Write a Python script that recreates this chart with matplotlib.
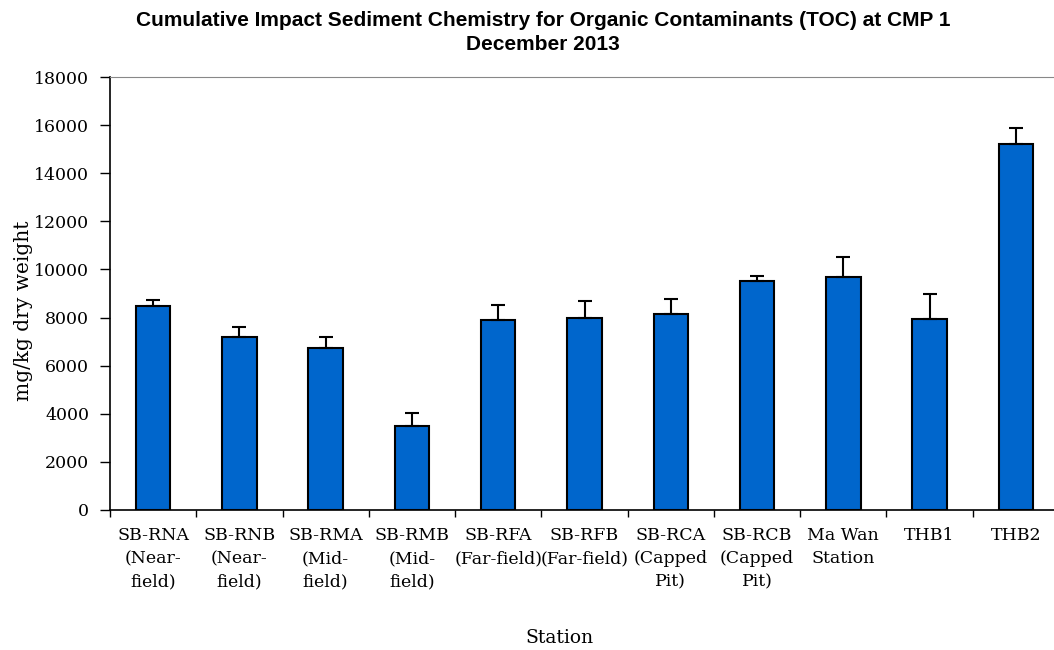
import matplotlib
matplotlib.use("Agg")
import matplotlib.pyplot as plt
import numpy as np

# Stations and TOC values (mg/kg dry weight)
stations = ['SB-RNA\n(Near-\nfield)', 'SB-RNB\n(Near-\nfield)', 'SB-RMA\n(Mid-\nfield)',
            'SB-RMB\n(Mid-\nfield)', 'SB-RFA\n(Far-field)', 'SB-RFB\n(Far-field)',
            'SB-RCA\n(Capped\nPit)', 'SB-RCB\n(Capped\nPit)', 'Ma Wan\nStation', 'THB1', 'THB2']
toc = [8500, 7180, 6750, 3500, 7900, 7980, 8160, 9520, 9680, 7940, 15210]
toc_err = [230, 420, 430, 520, 620, 690, 600, 220, 840, 1040, 680]

plt.rcParams['font.family'] = ['DejaVu Serif']

fig = plt.figure(figsize=(10.54, 6.5), dpi=100)
ax = fig.add_axes([110 / 1054, 140 / 650, 949 / 1054, 433 / 650])

x = np.arange(len(stations))
ax.bar(x, toc, width=0.4, color='#0066CC', edgecolor='black', linewidth=1.5, zorder=2)
ax.errorbar(x, toc, yerr=[np.zeros(len(toc)), toc_err], fmt='none', ecolor='black',
            elinewidth=1.5, capsize=5, capthick=1.5, zorder=3)

ax.set_xlim(-0.5, len(stations) - 0.5)
ax.set_ylim(0, 18000)
ax.set_yticks(np.arange(0, 18001, 2000))
ax.set_xticks(x)
ax.set_xticklabels(stations, fontsize=12.5, linespacing=1.5)
ax.set_xticks(np.arange(-0.5, len(stations), 1), minor=True)
ax.tick_params(axis='x', which='major', length=0, pad=12)
ax.tick_params(axis='x', which='minor', length=5, width=1, direction='out')
ax.tick_params(axis='y', labelsize=12.5, length=7, width=1, direction='out', pad=8)

ax.spines['right'].set_visible(False)
ax.spines['top'].set_color('#888888')
ax.spines['left'].set_linewidth(1.2)
ax.spines['bottom'].set_linewidth(1.2)

ax.set_ylabel('mg/kg dry weight', fontsize=14.5)
ax.yaxis.set_label_coords(-0.081, 0.46)
fig.text(559 / 1054, 1 - 638 / 650, 'Station', fontsize=13.5, ha='center', va='center')

fig.text(543 / 1054, 1 - 20 / 650, 'Cumulative Impact Sediment Chemistry for Organic Contaminants (TOC) at CMP 1',
         fontsize=15, fontweight='bold', family='Liberation Sans', ha='center', va='center')
fig.text(543 / 1054, 1 - 44 / 650, 'December 2013',
         fontsize=15, fontweight='bold', family='Liberation Sans', ha='center', va='center')

fig.savefig('out.png', dpi=100)
